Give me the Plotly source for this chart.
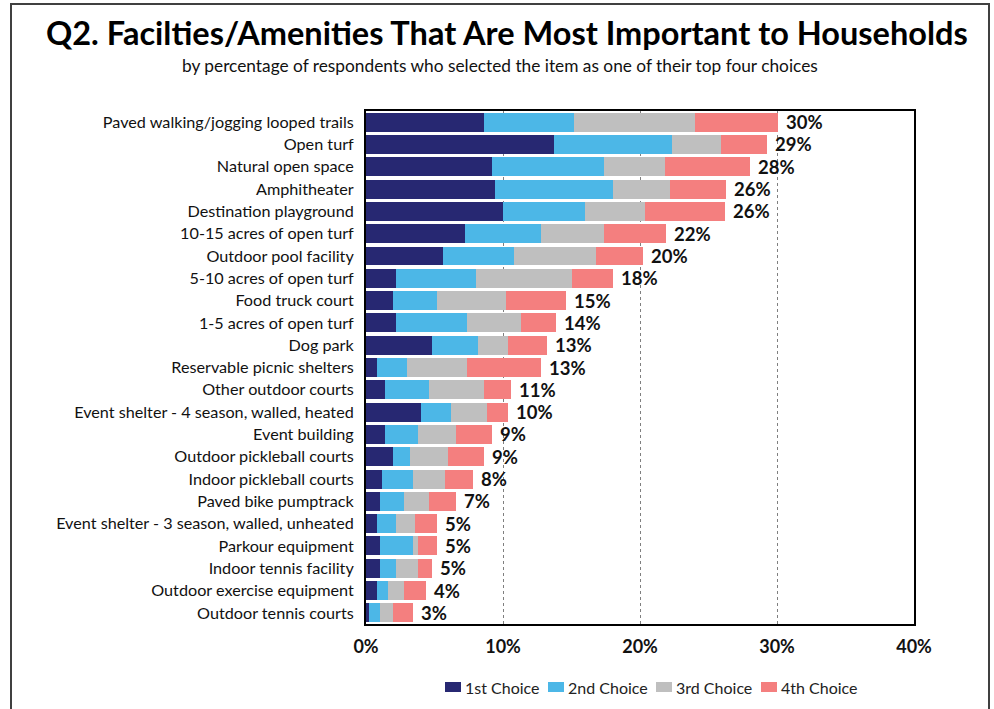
import plotly.graph_objects as go

# Amenities, listed top to bottom as drawn
categories = [
    "Paved walking/jogging looped trails",
    "Open turf",
    "Natural open space",
    "Amphitheater",
    "Destination playground",
    "10-15 acres of open turf",
    "Outdoor pool facility",
    "5-10 acres of open turf",
    "Food truck court",
    "1-5 acres of open turf",
    "Dog park",
    "Reservable picnic shelters",
    "Other outdoor courts",
    "Event shelter - 4 season, walled, heated",
    "Event building",
    "Outdoor pickleball courts",
    "Indoor pickleball courts",
    "Paved bike pumptrack",
    "Event shelter - 3 season, walled, unheated",
    "Parkour equipment",
    "Indoor tennis facility",
    "Outdoor exercise equipment",
    "Outdoor tennis courts",
]

# Percentage of respondents per choice rank
first_choice = [8.6, 13.7, 9.2, 9.4, 10.0, 7.2, 5.6, 2.2, 2.0, 2.2, 4.8, 0.8,
                1.4, 4.0, 1.4, 2.0, 1.2, 1.0, 0.8, 1.0, 1.0, 0.8, 0.2]
second_choice = [6.6, 8.6, 8.2, 8.6, 6.0, 5.6, 5.2, 5.8, 3.2, 5.2, 3.4, 2.2,
                 3.2, 2.2, 2.4, 1.2, 2.2, 1.8, 1.4, 2.4, 1.2, 0.8, 0.8]
third_choice = [8.8, 3.6, 4.4, 4.2, 4.4, 4.6, 6.0, 7.0, 5.0, 3.9, 2.2, 4.4,
                4.0, 2.6, 2.8, 2.8, 2.4, 1.8, 1.4, 0.4, 1.6, 1.2, 1.0]
fourth_choice = [6.1, 3.4, 6.2, 4.1, 5.8, 4.5, 3.4, 3.0, 4.4, 2.6, 2.8, 5.4,
                 2.0, 1.6, 2.6, 2.6, 2.0, 2.0, 1.6, 1.4, 1.0, 1.6, 1.4]

series_names = ["1st Choice", "2nd Choice", "3rd Choice", "4th Choice"]
series_values = [first_choice, second_choice, third_choice, fourth_choice]
series_colors = ["#272872", "#4CB7E7", "#BFBFBF", "#F47F7F"]

x_ticks = [0, 10, 20, 30, 40]
x_tick_labels = ["0%", "10%", "20%", "30%", "40%"]

totals = [sum(v) for v in zip(*series_values)]
total_labels = [f"{round(t):.0f}%" for t in totals]

FONT = "Lato"
W, H = 994, 709
L, R, T, B = 366, 80, 111, 85
pw, ph = W - L - R, H - T - B


def px(x):
    """Pixel column -> paper x."""
    return (x - L) / pw


def py(y):
    """Pixel row (from top) -> paper y."""
    return (H - B - y) / ph


fig = go.Figure()
for name, vals, color in zip(series_names, series_values, series_colors):
    fig.add_trace(go.Bar(
        y=categories, x=vals, name=name, orientation="h",
        marker=dict(color=color, line=dict(width=0)),
        hoverinfo="x+y+name", showlegend=False,
    ))

annotations = []

# Total percentage printed just past the end of each stacked bar
for cat, tot, lab in zip(categories, totals, total_labels):
    annotations.append(dict(
        x=tot, y=cat, xref="x", yref="y", text=f"<b>{lab}</b>",
        xanchor="left", yanchor="middle", xshift=6, showarrow=False,
        font=dict(family=FONT, size=18.5, color="#111111"),
    ))

# Titles
annotations.append(dict(
    text="<b>Q2. Facilties/Amenities That Are Most Important to Households</b>",
    xref="paper", yref="paper", x=px(507), y=py(32),
    xanchor="center", yanchor="middle", showarrow=False,
    font=dict(family=FONT, size=32.5, color="black"),
))
annotations.append(dict(
    text="by percentage of respondents who selected the item as one of their top four choices",
    xref="paper", yref="paper", x=px(500), y=py(66),
    xanchor="center", yanchor="middle", showarrow=False,
    font=dict(family=FONT, size=17.3, color="#111111"),
))

# Legend: colour key followed closely by its label
shapes = []
legend_keys_x = [445, 548, 656, 761]
legend_y = 687
for name, color, kx in zip(series_names, series_colors, legend_keys_x):
    shapes.append(dict(
        type="rect", xref="paper", yref="paper",
        x0=px(kx), x1=px(kx + 16), y0=py(legend_y + 5), y1=py(legend_y - 5),
        fillcolor=color, line=dict(width=0),
    ))
    annotations.append(dict(
        text=name, xref="paper", yref="paper", x=px(kx + 18), y=py(legend_y),
        xanchor="left", yanchor="middle", showarrow=False,
        font=dict(family=FONT, size=16, color="#222222"),
    ))

# Frame around the whole graphic
shapes.append(dict(
    type="rect", xref="paper", yref="paper",
    x0=px(11), x1=px(989), y0=py(730), y1=py(4),
    line=dict(color="#404040", width=2), fillcolor="rgba(0,0,0,0)",
    layer="below",
))

fig.update_layout(
    width=W, height=H,
    barmode="stack", bargap=0.15,
    margin=dict(l=L, r=R, t=T, b=B, pad=0, autoexpand=False),
    paper_bgcolor="white", plot_bgcolor="white",
    font=dict(family=FONT, color="#111111"),
    showlegend=False,
    xaxis=dict(
        range=[0, 40], tickvals=x_ticks, ticktext=x_tick_labels,
        tickfont=dict(family=FONT, size=18, color="#111111", weight="bold"),
        showgrid=True, gridcolor="#7F7F7F", griddash="dot", gridwidth=1,
        showline=True, linecolor="black", linewidth=2, mirror=True,
        ticks="", ticklabelstandoff=5, zeroline=False, fixedrange=True,
    ),
    yaxis=dict(
        range=[22.5, -0.5],
        tickfont=dict(family=FONT, size=16.2, color="#111111"),
        showline=True, linecolor="black", linewidth=2, mirror=True,
        ticks="", ticklabelstandoff=7, showgrid=False, fixedrange=True,
    ),
    annotations=annotations,
    shapes=shapes,
)

fig.write_html("out.html")
